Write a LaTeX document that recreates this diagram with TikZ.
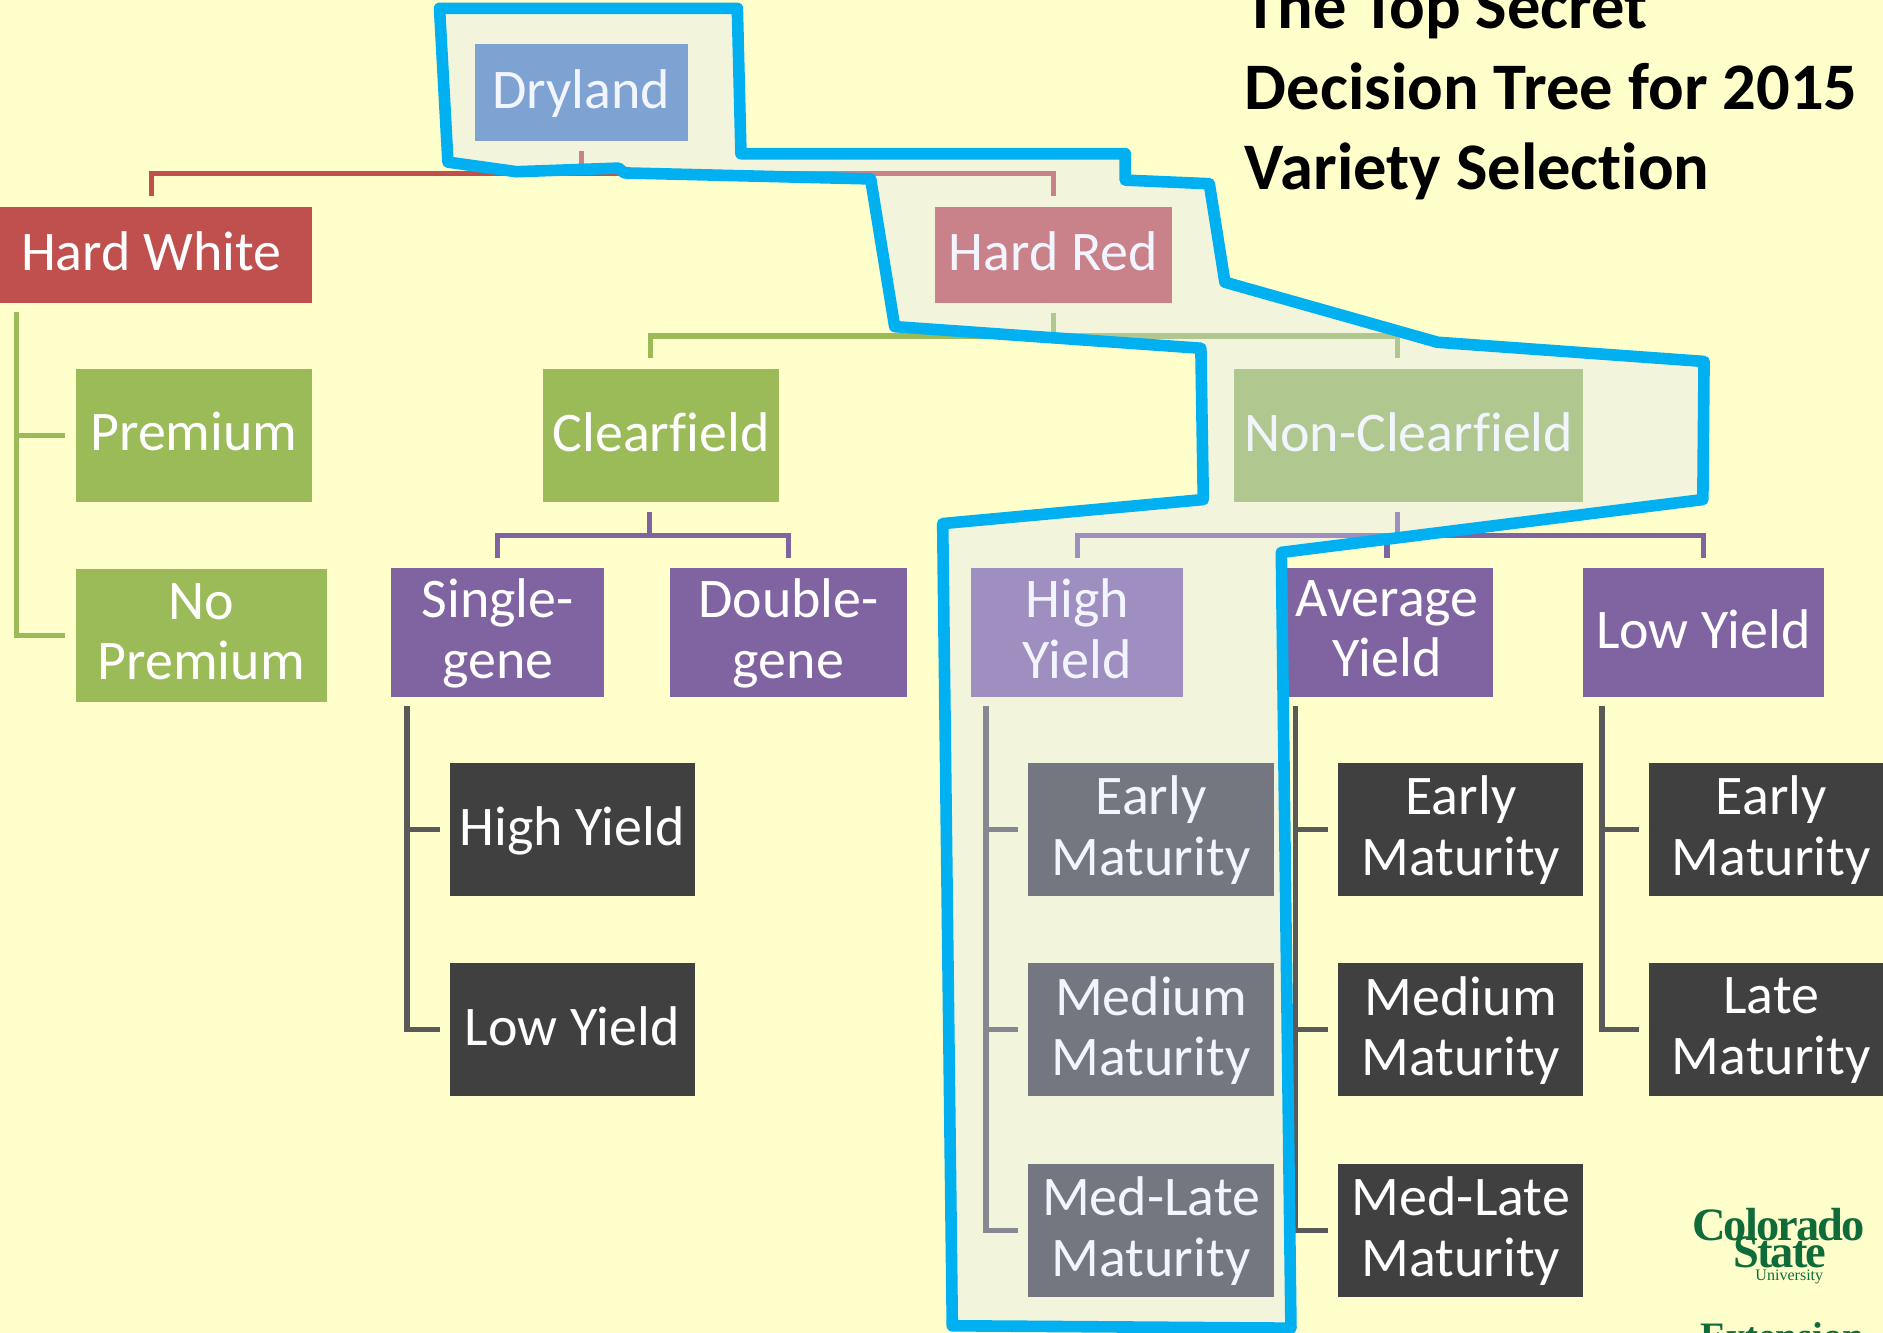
\documentclass[tikz,border=0pt]{standalone}
\usepackage{fontspec}
\setmainfont[Ligatures=NoCommon]{Carlito}
\newfontfamily\logofont{Liberation Serif}

\definecolor{paper}{HTML}{FFFFCC}
\definecolor{rootblue}{HTML}{4F81BD}
\definecolor{wheatred}{HTML}{C0504D}
\definecolor{traitgreen}{HTML}{9BBB59}
\definecolor{yieldpurple}{HTML}{8064A2}
\definecolor{matgray}{HTML}{404040}
\definecolor{stemgray}{HTML}{595959}
\definecolor{pathblue}{HTML}{00B0F0}
\definecolor{pathfill}{HTML}{DBE4FD}
\definecolor{csugreen}{HTML}{0F6B3A}

\tikzset{
  treebox/.style={rectangle, inner sep=0pt, align=center, text=white, text depth=1.7pt,
    font=\fontsize{13.25}{14.3}\selectfont},
  bluebox/.style={treebox, fill=rootblue, minimum width=1.77cm, minimum height=.8cm},
  redbox/.style={treebox, fill=wheatred, minimum height=.8cm},
  greenbox/.style={treebox, fill=traitgreen, minimum height=1.11cm},
  purplebox/.style={treebox, fill=yieldpurple, minimum height=1.07cm},
  graybox/.style={treebox, fill=matgray, minimum width=2.04cm, minimum height=1.11cm},
  link/.style={line width=1.25pt, shorten <=2.2pt, shorten >=2.2pt},
  redlink/.style={link, draw=wheatred},
  greenlink/.style={link, draw=traitgreen},
  purplelink/.style={link, draw=yieldpurple},
  graylink/.style={link, draw=stemgray},
  logotext/.style={text=csugreen, inner sep=0pt},
  chosenpath/.style={draw=pathblue, line width=2.75pt, line join=round,
    fill=pathfill, fill opacity=.34, draw opacity=1}
}

\begin{document}
\begin{tikzpicture}[x=.01cm, y=-.01cm]

\useasboundingbox (0,0) rectangle (1568,1110) ;
\clip (0,0) rectangle (1568,1110) ;
\fill [paper] (0,0) rectangle (1568,1110) ;

\node [bluebox] (dryland) at (484,77) {Dryland} ;
\node [redbox, minimum width=2.68cm] (hardwhite) at (126,212) {Hard White} ;
\node [redbox, minimum width=1.97cm] (hardred) at (877,212) {Hard Red} ;

\node [greenbox, minimum width=1.97cm] (premium) at (161.5,362.5) {Premium} ;
\node [greenbox, minimum width=2.09cm] (nopremium) at (167.5,529) {No\\Premium} ;
\node [greenbox, minimum width=1.97cm] (clearfield) at (550.5,362.5) {Clearfield} ;
\node [greenbox, minimum width=2.90cm] (nonclearfield) at (1173,362.5) {Non-Clearfield} ;

\node [purplebox, minimum width=1.77cm] (singlegene) at (414.5,526.5) {Single-\\gene} ;
\node [purplebox, minimum width=1.97cm] (doublegene) at (656.5,526.5) {Double-\\gene} ;
\node [purplebox, minimum width=1.76cm] (highyield) at (897,526.5) {High\\Yield} ;
\node [purplebox, minimum width=1.76cm] (avgyield) at (1155,526.5) {Average\\Yield} ;
\node [purplebox, minimum width=2.01cm] (lowyield) at (1418.5,526.5) {Low Yield} ;

\node [graybox] (sghigh) at (476.5,690.5) {High Yield} ;
\node [graybox] (sglow) at (476.5,857.5) {Low Yield} ;

\node [graybox] (hyearly) at (958.5,690.5) {Early\\Maturity} ;
\node [graybox] (hymedium) at (958.5,857.5) {Medium\\Maturity} ;
\node [graybox] (hymedlate) at (958.5,1024.5) {Med-Late\\Maturity} ;

\node [graybox] (ayearly) at (1216.5,690.5) {Early\\Maturity} ;
\node [graybox] (aymedium) at (1216.5,857.5) {Medium\\Maturity} ;
\node [graybox] (aymedlate) at (1216.5,1024.5) {Med-Late\\Maturity} ;

\node [graybox] (lyearly) at (1475,690.5) {Early\\Maturity} ;
\node [graybox] (lylate) at (1475,857.5) {Late\\Maturity} ;

\coordinate (hwstem) at (14,252) ;
\coordinate (sgstem) at (339,580) ;
\coordinate (hystem) at (821,580) ;
\coordinate (aystem) at (1079,580) ;
\coordinate (lystem) at (1334,580) ;

\draw [redlink] (dryland.south) -- ++(0,26.5) -| (hardwhite.north) ;
\draw [redlink] (dryland.south) -- ++(0,26.5) -| (hardred.north) ;

\draw [greenlink] (hwstem) |- (premium.west) ;
\draw [greenlink] (hwstem) |- (nopremium.west) ;
\draw [greenlink] (hardred.south) -- ++(0,27) -| ([xshift=-.09cm]clearfield.north) ;
\draw [greenlink] (hardred.south) -- ++(0,27) -| ([xshift=-.09cm]nonclearfield.north) ;

\draw [purplelink] ([xshift=-.095cm]clearfield.south) -- ++(0,27) -| (singlegene.north) ;
\draw [purplelink] ([xshift=-.095cm]clearfield.south) -- ++(0,27) -| (doublegene.north) ;
\draw [purplelink] ([xshift=-.09cm]nonclearfield.south) -- ++(0,27) -| (highyield.north) ;
\draw [purplelink] ([xshift=-.09cm]nonclearfield.south) -- ++(0,27) -| (avgyield.north) ;
\draw [purplelink] ([xshift=-.09cm]nonclearfield.south) -- ++(0,27) -| (lowyield.north) ;

\draw [graylink] (sgstem) |- (sghigh.west) ;
\draw [graylink] (sgstem) |- (sglow.west) ;
\draw [graylink] (hystem) |- (hyearly.west) ;
\draw [graylink] (hystem) |- (hymedium.west) ;
\draw [graylink] (hystem) |- (hymedlate.west) ;
\draw [graylink] (aystem) |- (ayearly.west) ;
\draw [graylink] (aystem) |- (aymedium.west) ;
\draw [graylink] (aystem) |- (aymedlate.west) ;
\draw [graylink] (lystem) |- (lyearly.west) ;
\draw [graylink] (lystem) |- (lylate.west) ;

\node [anchor=west, inner sep=0pt, align=left, font=\bfseries\fontsize{15.75}{19.05}\selectfont] (title) at (1036,76)
  {The Top Secret\\Decision Tree for 2015\\Variety Selection} ;

\node [logotext, font=\logofont\bfseries\fontsize{11}{11}\selectfont] (colorado) at (1481,1020) {\addfontfeature{LetterSpace=-4}Colorado} ;
\node [logotext, font=\logofont\bfseries\fontsize{11}{11}\selectfont] (state) at (1482,1043) {\addfontfeature{LetterSpace=-4}State} ;
\node [logotext, font=\logofont\fontsize{3.8}{3.8}\selectfont] (university) at (1490,1063) {University} ;
\node [logotext, font=\logofont\bfseries\fontsize{9.2}{9.2}\selectfont] (extension) at (1484,1113) {Extension} ;

\draw [chosenpath] (366,7) -- (614,7) -- (617,128) -- (937,128) -- (937,150) -- (1007,153)
  -- (1020,235) -- (1197,285) -- (1419,301) -- (1418,416) -- (1067,460) -- (1075,1106)
  -- (793,1104) -- (785,436) -- (1002,416) -- (1000,290) -- (745,272) -- (725,149)
  -- (520,144) -- (515,140) -- (430,143) -- (373,135) -- cycle ;

\end{tikzpicture}
\end{document}
